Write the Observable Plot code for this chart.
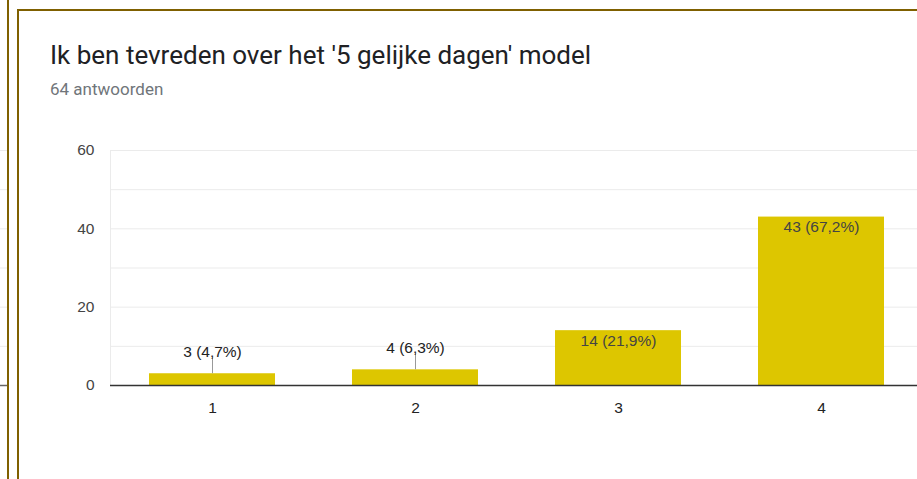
<!DOCTYPE html>
<html>
<head>
<meta charset="utf-8">
<script src="https://cdn.jsdelivr.net/npm/d3@7"></script>
<script src="https://cdn.jsdelivr.net/npm/@observablehq/plot@0.6"></script>
<style>
  html, body { margin: 0; padding: 0; background: #fff; overflow: hidden; }
  body { width: 917px; height: 479px; position: relative; }
  .border { position: absolute; background: #7f6000; }
  #title { position: absolute; left: 50px; top: 40px; font-family: Roboto, sans-serif; font-size: 26px; color: #202124; white-space: nowrap; }
  #subtitle { position: absolute; left: 50px; top: 79px; font-family: Roboto, sans-serif; font-size: 17px; color: #70757a; white-space: nowrap; }
  #chart { position: absolute; left: 0; top: 0; width: 930px; }
  #chart svg, #stub svg { max-width: none !important; }
  #stub { position: absolute; left: 0; top: 0; }
</style>
</head>
<body>
<div id="stub"></div>
<div id="chart"></div>
<div class="border" style="left:7px; top:0; width:2px; height:479px;"></div>
<div class="border" style="left:17px; top:9px; width:2px; height:470px;"></div>
<div class="border" style="left:17px; top:9px; width:900px; height:2px;"></div>
<div id="title">Ik ben tevreden over het '5 gelijke dagen' model</div>
<div id="subtitle">64 antwoorden</div>
<script>
const categories = ["1", "2", "3", "4"];
const counts = [3, 4, 14, 43];
const percentLabels = ["4,7%", "6,3%", "21,9%", "67,2%"];
const yTickValues = [0, 20, 40, 60];
const gridValues = [10, 20, 30, 40, 50, 60];
const yMax = 60;
const insideThreshold = 10;
const leaderLength = 4;

const data = categories.map((c, i) => ({
  cat: c,
  value: counts[i],
  label: `${counts[i]} (${percentLabels[i]})`,
  inside: counts[i] >= insideThreshold
}));
const outside = data.filter(d => !d.inside);
const inside = data.filter(d => d.inside);

const font = "Arial, 'Liberation Sans', sans-serif";

const leftEdge = (index, scales, values, dims) => {
  const l = document.createElementNS("http://www.w3.org/2000/svg", "line");
  l.setAttribute("x1", dims.marginLeft + 0.5);
  l.setAttribute("x2", dims.marginLeft + 0.5);
  l.setAttribute("y1", dims.marginTop);
  l.setAttribute("y2", dims.height - dims.marginBottom);
  l.setAttribute("stroke", "#ebebeb");
  return l;
};

const chart = Plot.plot({
  width: 930,
  height: 479,
  marginLeft: 110,
  marginRight: 8,
  marginTop: 150,
  marginBottom: 94,
  style: { fontFamily: font, fontSize: "15.5px", background: "transparent", overflow: "visible", maxWidth: "none" },
  x: { domain: categories, paddingInner: 0.38, paddingOuter: 0.19, label: null },
  y: { domain: [0, yMax], label: null },
  marks: [
    Plot.gridY(gridValues, { stroke: "#ebebeb", strokeOpacity: 1 }),
    leftEdge,
    Plot.axisY({ ticks: yTickValues, tickSize: 0, tickPadding: 16, fill: "#444", fontSize: 15.5, label: null }),
    Plot.axisX({ tickSize: 0, tickPadding: 16, fill: "#222", fontSize: 15.5, label: null }),
    Plot.barY(data, { x: "cat", y: "value", fill: "#ddc600" }),
    Plot.ruleX(outside, { x: "cat", y1: "value", y2: d => d.value + leaderLength, stroke: "#999", strokeWidth: 1 }),
    Plot.text(outside, { x: "cat", y: d => d.value + leaderLength, text: "label", lineAnchor: "bottom", dy: -1, fill: "#222", fontSize: 15.5 }),
    Plot.text(inside, { x: "cat", y: "value", text: "label", lineAnchor: "top", dy: 4, fill: "#444", fontSize: 15.5 }),
    Plot.ruleY([0], { stroke: "#333", strokeWidth: 1.3 })
  ]
});
document.getElementById("chart").appendChild(chart);

const stub = Plot.plot({
  width: 8,
  height: 479,
  marginLeft: 0,
  marginRight: 0,
  marginTop: 150,
  marginBottom: 94,
  style: { background: "transparent", maxWidth: "none" },
  x: { domain: [0, 1], axis: null },
  y: { domain: [0, yMax], axis: null },
  marks: [
    Plot.gridY(gridValues, { stroke: "#ebebeb", strokeOpacity: 1 }),
    Plot.ruleY([0], { stroke: "#666", strokeWidth: 1.5 })
  ]
});
document.getElementById("stub").appendChild(stub);
</script>
</body>
</html>
